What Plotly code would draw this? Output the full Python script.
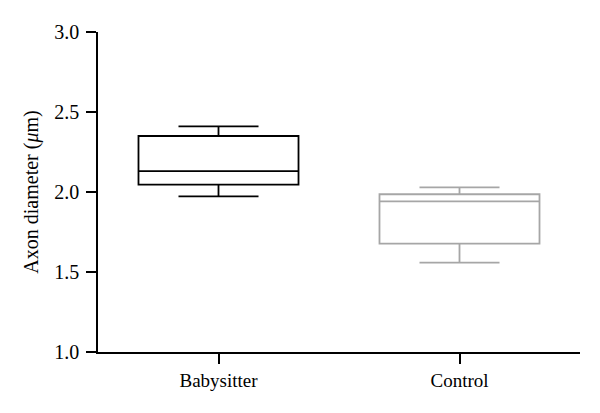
import plotly.graph_objects as go

categories = ["Babysitter", "Control"]
q1 = [2.046, 1.677]
median = [2.131, 1.942]
q3 = [2.35, 1.986]
lower = [1.973, 1.558]
upper = [2.41, 2.029]
colors = ["#000000", "#a6a6a6"]
y_ticks = [1.0, 1.5, 2.0, 2.5, 3.0]
y_tick_text = ["1.0", "1.5", "2.0", "2.5", "3.0"]

FONT = "'Liberation Serif', 'Times New Roman', 'DejaVu Serif', serif"

fig = go.Figure()
for i, cat in enumerate(categories):
    fig.add_trace(go.Box(
        x=[i], q1=[q1[i]], median=[median[i]], q3=[q3[i]],
        lowerfence=[lower[i]], upperfence=[upper[i]],
        width=0.664, whiskerwidth=0.5,
        line=dict(color=colors[i], width=1.8),
        fillcolor="rgba(0,0,0,0)", boxpoints=False,
        hoverinfo="skip", showlegend=False,
    ))

fig.update_layout(
    width=600, height=413,
    margin=dict(l=98, r=20, t=32, b=61),
    paper_bgcolor="white", plot_bgcolor="white",
    font=dict(family=FONT, size=19, color="black"),
    xaxis=dict(
        range=[-0.5, 1.5], tickmode="array", tickvals=[0, 1], ticktext=categories,
        showline=True, linecolor="black", linewidth=1.5,
        ticks="outside", ticklen=10, tickwidth=1.5, tickcolor="black",
        tickfont=dict(size=19),
        showgrid=False, zeroline=False, automargin=False,
    ),
    yaxis=dict(
        range=[1.0, 3.0], tickmode="array", tickvals=y_ticks, ticktext=y_tick_text,
        showline=True, linecolor="black", linewidth=1.5,
        ticks="outside", ticklen=10, tickwidth=1.5, tickcolor="black",
        tickfont=dict(size=20), ticklabelstandoff=3,
        showgrid=False, zeroline=False, automargin=False,
        title=dict(text="Axon diameter (<i>μ</i>m)", standoff=10, font=dict(size=20)),
    ),
)

fig.write_html("out.html", post_script="document.body.style.margin='0';",
               config={"displayModeBar": False})
